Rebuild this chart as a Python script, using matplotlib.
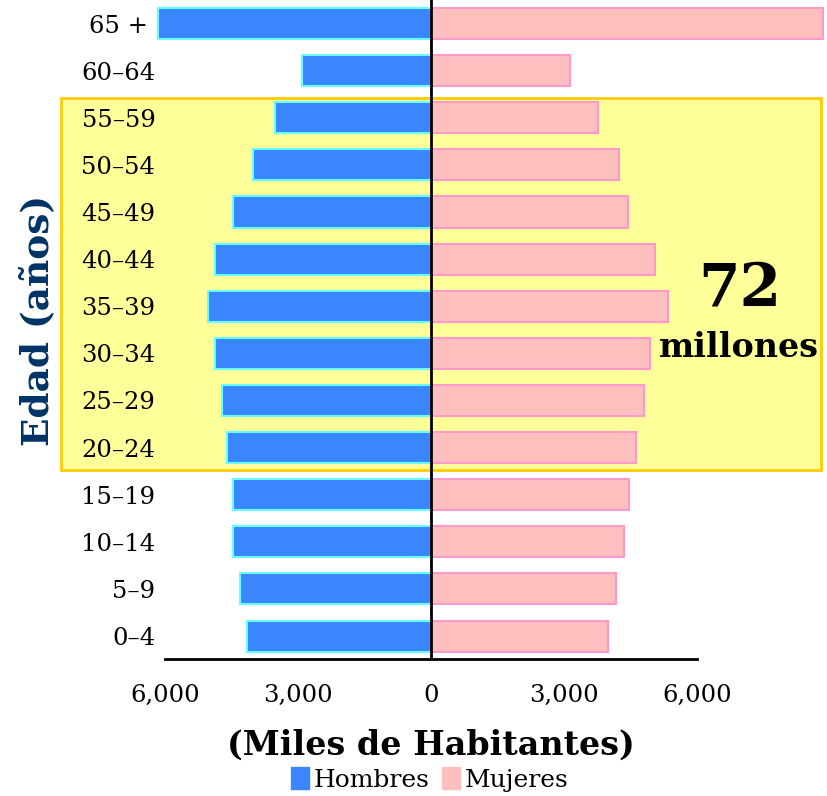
import matplotlib
matplotlib.use("Agg")
import matplotlib.pyplot as plt
from matplotlib.patches import Rectangle, Patch

# Grupos de edad (de abajo hacia arriba)
edades = ["0–4", "5–9", "10–14", "15–19", "20–24", "25–29", "30–34",
          "35–39", "40–44", "45–49", "50–54", "55–59", "60–64", "65 + "]

# Miles de habitantes
hombres = [4150, 4310, 4470, 4470, 4600, 4710, 4870,
           5030, 4870, 4470, 4015, 3520, 2900, 6160]
mujeres = [3990, 4170, 4350, 4470, 4620, 4800, 4940,
           5350, 5050, 4440, 4240, 3770, 3135, 8840]

ticks_x = [-6000, -3000, 0, 3000, 6000]
etiquetas_x = ["6,000", "3,000", "0", "3,000", "6,000"]

azul = "#3a86ff"
borde_azul = "#66ffff"
rosa = "#ffbfbf"
borde_rosa = "#ff99cc"

plt.rcParams['font.family'] = ['DejaVu Serif']

fig = plt.figure(figsize=(8.27, 7.96), dpi=100)
ax = fig.add_axes([0.1995, 0.1721, 0.6433, 0.8279])
ax.patch.set_visible(False)

pos = list(range(len(edades)))

# Franja amarilla de 20 a 59 años
ax.add_patch(Rectangle((-8350, 4 - 0.47), 8350 + 8800, 7 + 0.88,
                       facecolor="#ffff99", edgecolor="#ffcc00", lw=2,
                       zorder=0, clip_on=False))

ax.barh(pos, [-h for h in hombres], height=0.66, color=azul,
        edgecolor=borde_azul, lw=1.5, zorder=2, clip_on=False)
ax.barh(pos, mujeres, height=0.66, color=rosa,
        edgecolor=borde_rosa, lw=1.5, zorder=2, clip_on=False)

ax.axvline(0, color="black", lw=2, zorder=3)

ax.set_xlim(-6000, 6000)
ax.set_ylim(-0.487, 13.5)
ax.set_xticks(ticks_x)
ax.set_xticklabels(etiquetas_x, fontsize=17.5)
ax.set_yticks(pos)
ax.set_yticklabels(edades, fontsize=17.5)
ax.tick_params(length=0, pad=7)
ax.tick_params(axis="x", pad=18)

for s in ["top", "right", "left"]:
    ax.spines[s].set_visible(False)
ax.spines["bottom"].set_linewidth(2)

ax.set_xlabel("(Miles de Habitantes)", fontsize=24, fontweight="bold", labelpad=16)
fig.text(0.046, 0.598, "Edad (años)", rotation=90, ha="center", va="center",
         fontsize=27, fontweight="bold", color="#003366")

fig.text(0.895, 0.638, "72", ha="center", va="center", fontsize=43, fontweight="bold")
fig.text(0.893, 0.564, "millones", ha="center", va="center", fontsize=24, fontweight="bold")

fig.legend(handles=[Patch(color=azul, label="Hombres"), Patch(color=rosa, label="Mujeres")],
           loc="center", bbox_to_anchor=(0.52, 0.021), ncol=2, frameon=False,
           fontsize=18, handlelength=0.7, handleheight=1.0, handletextpad=0.2,
           columnspacing=0.5, borderpad=0.1)

fig.savefig("out.png", dpi=100)
